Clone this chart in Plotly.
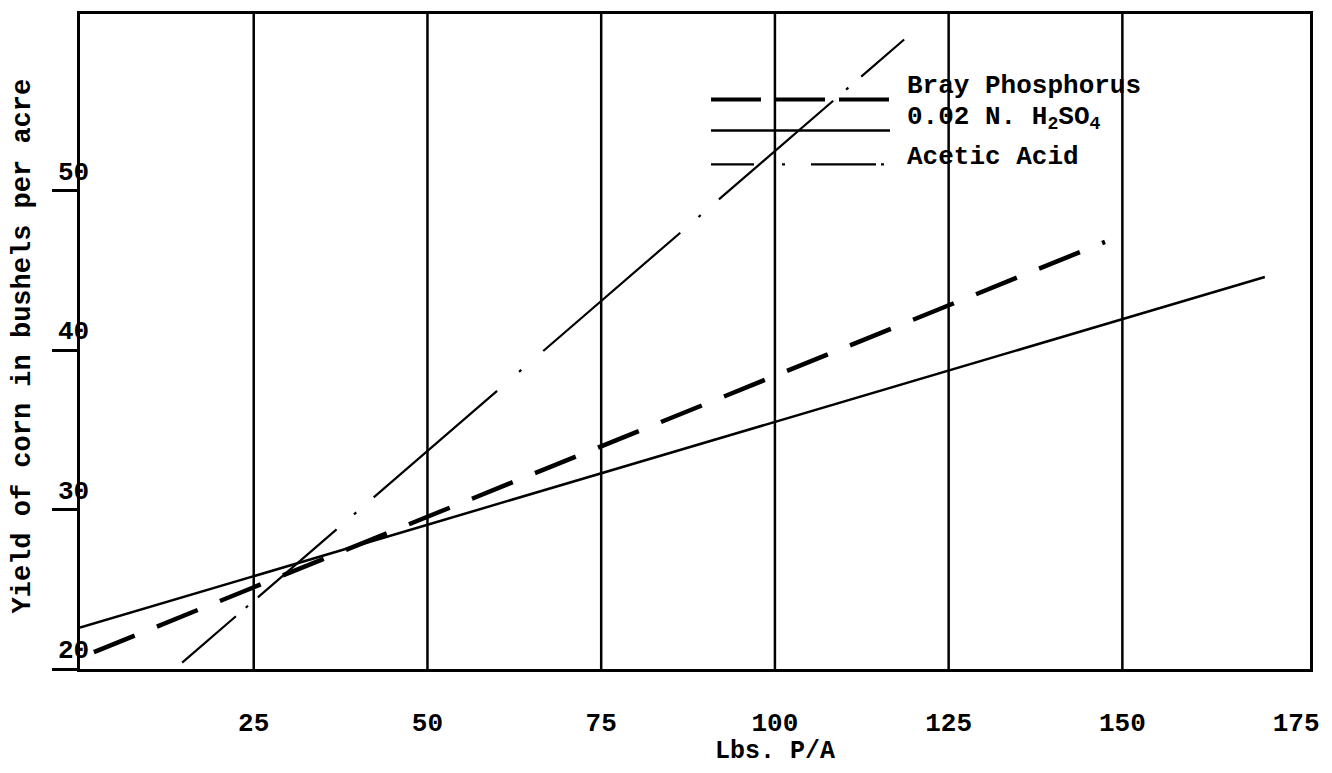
import plotly.graph_objects as go

# Fitted yield response lines (x = Lbs. P/A, y = bushels of corn per acre)
BRAY_X = [2.0, 147.5]
BRAY_Y = [21.06, 46.8]
H2SO4_X = [0.0, 170.5]
H2SO4_Y = [22.6, 44.6]
ACETIC_X = [14.7, 118.6]
ACETIC_Y = [20.4, 59.5]

SERIES_NAMES = ["Bray Phosphorus", "0.02 N. H<sub>2</sub>SO<sub>4</sub>", "Acetic Acid"]

X_TICKS = [25, 50, 75, 100, 125, 150, 175]
X_GRID = [25, 50, 75, 100, 125, 150]
Y_TICKS = [20, 30, 40, 50]
X_RANGE = [0, 177]
Y_RANGE = [20, 61.1]

X_TITLE = "Lbs. P/A"
Y_TITLE = "Yield of corn in bushels per acre"

# page geometry
W, H = 1332, 773
L, R, T, B = 80, 22, 11, 104
PW, PH = W - L - R, H - T - B

TYPE = "Liberation Mono"
INK = "black"


def paper(px, py):
    """pixel position on the page -> paper coordinates"""
    return (px - L) / PW, (H - B - py) / PH


fig = go.Figure()

fig.add_trace(go.Scatter(
    x=BRAY_X, y=BRAY_Y, mode="lines", name=SERIES_NAMES[0],
    line=dict(color=INK, width=4.5, dash="44px,24px"),
    showlegend=False, hoverinfo="skip"))
fig.add_trace(go.Scatter(
    x=H2SO4_X, y=H2SO4_Y, mode="lines", name=SERIES_NAMES[1],
    line=dict(color=INK, width=2.5),
    showlegend=False, hoverinfo="skip"))
fig.add_trace(go.Scatter(
    x=ACETIC_X, y=ACETIC_Y, mode="lines", name=SERIES_NAMES[2],
    line=dict(color=INK, width=2.2,
              dash="71px,13px,3px,13px,104px,23px,3px,23px,163px,29px,3px,29px,"
                   "181px,24px,3px,24px,151px,17px,3px,17px,60px,1000px"),
    showlegend=False, hoverinfo="skip"))

# vertical rulings
for v in X_GRID:
    fig.add_shape(type="line", xref="x", yref="paper", x0=v, x1=v, y0=0, y1=1,
                  line=dict(color=INK, width=2.5))

# y tick labels sit on the axis, just above their tick marks
for v in Y_TICKS:
    fig.add_annotation(x=0, y=v, xref="x", yref="y", text=str(v), showarrow=False,
                       xanchor="center", yanchor="bottom", xshift=-7, yshift=1,
                       font=dict(family=TYPE, size=26, color=INK, weight="bold"))

# hand-made key
key_rows = [
    (97, "50px,14px", 4.0, 83),
    (128, "solid", 2.5, 115),
    (162, "43px,28px,3px,26px,65px,5px,3px", 2.2, 155),
]
for (ly, dash, lw, ty), name in zip(key_rows, SERIES_NAMES):
    x0, y0 = paper(711, ly)
    x1, _ = paper(890, ly)
    fig.add_shape(type="line", xref="paper", yref="paper", x0=x0, x1=x1, y0=y0, y1=y0,
                  line=dict(color=INK, width=lw, dash=dash))
    tx, tyy = paper(905, ty)
    fig.add_annotation(x=tx, y=tyy, xref="paper", yref="paper", text=name,
                       showarrow=False, xanchor="left", yanchor="middle",
                       font=dict(family=TYPE, size=26, color=INK, weight="bold"))

# axis titles
ax, ay = paper(23, 345)
fig.add_annotation(x=ax, y=ay, xref="paper", yref="paper", text=Y_TITLE, textangle=-90,
                   showarrow=False, xanchor="center", yanchor="middle",
                   font=dict(family=TYPE, size=27, color=INK, weight="bold"))
bx, by = paper(775, 752)
fig.add_annotation(x=bx, y=by, xref="paper", yref="paper", text=X_TITLE,
                   showarrow=False, xanchor="center", yanchor="middle",
                   font=dict(family=TYPE, size=25, color=INK, weight="bold"))

fig.update_layout(
    width=W, height=H, autosize=False,
    margin=dict(l=L, r=R, t=T, b=B, pad=0),
    paper_bgcolor="white", plot_bgcolor="white",
    showlegend=False,
    xaxis=dict(range=X_RANGE, tickvals=X_TICKS, ticktext=[str(v) for v in X_TICKS],
               showgrid=False, zeroline=False, showline=True, mirror=True,
               linecolor=INK, linewidth=3, ticks="", ticklabelstandoff=28,
               tickfont=dict(family=TYPE, size=26, color=INK, weight="bold")),
    yaxis=dict(range=Y_RANGE, tickvals=Y_TICKS, showticklabels=False,
               showgrid=False, zeroline=False, showline=True, mirror=True,
               linecolor=INK, linewidth=3, ticks="outside", ticklen=25,
               tickwidth=2.5, tickcolor=INK),
)

fig.write_html("out.html")
